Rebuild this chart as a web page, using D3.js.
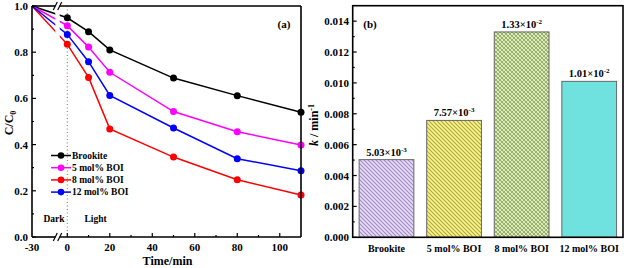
<!DOCTYPE html>
<html><head><meta charset="utf-8">
<script src="https://cdn.jsdelivr.net/npm/d3@7"></script>
<style>
body{margin:0;background:#fff;}
text{font-family:"Liberation Serif","Times New Roman",serif;font-weight:bold;}
</style></head>
<body><svg id="c" width="624" height="268"></svg>
<script>
// ---------- data ----------
const times = [-30, 0, 10, 20, 50, 80, 110];
const seriesNames = ["Brookite", "5 mol% BOI", "8 mol% BOI", "12 mol% BOI"];
const brookite = [1.0, 0.949, 0.889, 0.810, 0.688, 0.612, 0.540];
const boi5 = [1.0, 0.915, 0.822, 0.713, 0.543, 0.456, 0.398];
const boi8 = [1.0, 0.834, 0.691, 0.468, 0.346, 0.248, 0.182];
const boi12 = [1.0, 0.877, 0.759, 0.613, 0.472, 0.339, 0.287];
const xTicks = [-30, 0, 20, 40, 60, 80, 100];
const xMinor = [10, 30, 50, 70, 90];
const yTicksA = [0, 0.2, 0.4, 0.6, 0.8, 1.0];
const categories = ["Brookite", "5 mol% BOI", "8 mol% BOI", "12 mol% BOI"];
const kValues = [0.00503, 0.00757, 0.0133, 0.0101];
const kLabels = [["5.03×10", "-3"], ["7.57×10", "-3"], ["1.33×10", "-2"], ["1.01×10", "-2"]];
const yTicksB = [0, 0.002, 0.004, 0.006, 0.008, 0.010, 0.012, 0.014];

const svg = d3.select("#c");
const colors = ["#000000", "#ff00ff", "#ff0000", "#0000ff"];
const seriesVals = [brookite, boi5, boi8, boi12];

// ---------- panel a ----------
const A = {l: 32, r: 301, t: 6, b: 237};
const x = d3.scaleLinear().domain([-30, 0, 110]).range([A.l, 67.3, A.r]);
const y = d3.scaleLinear().domain([0, 1]).range([A.b, A.t]);
const ga = svg.append("g");

// dotted line at 0
ga.append("line").attr("x1", x(0)).attr("x2", x(0)).attr("y1", A.t).attr("y2", A.b)
  .attr("stroke", "#777").attr("stroke-width", 1).attr("stroke-dasharray", "1,2.5");

const line = d3.line().x((d, i) => x(times[i])).y(d => y(d));
const drawOrder = [0, 1, 2, 3];
drawOrder.forEach(s => {
  ga.append("path").datum(seriesVals[s]).attr("d", line)
    .attr("fill", "none").attr("stroke", colors[s]).attr("stroke-width", 1.5);
});
// break gap
const bx = 57.5;
ga.append("rect").attr("x", bx - 2.2).attr("y", A.t - 1).attr("width", 4.4).attr("height", A.b - A.t + 2).attr("fill", "#fff");
drawOrder.forEach(s => {
  ga.selectAll(null).data(seriesVals[s].slice(1)).enter().append("circle")
    .attr("cx", (d, i) => x(times[i + 1])).attr("cy", d => y(d)).attr("r", 3.5)
    .attr("fill", colors[s]);
});

// axes frame
const axisStroke = 1.6;
ga.append("line").attr("x1", A.l).attr("x2", A.l).attr("y1", A.t).attr("y2", A.b).attr("stroke", "#000").attr("stroke-width", axisStroke);
ga.append("line").attr("x1", A.r).attr("x2", A.r).attr("y1", A.t).attr("y2", A.b).attr("stroke", "#000").attr("stroke-width", axisStroke);
[A.t, A.b].forEach(yy => {
  ga.append("line").attr("x1", A.l).attr("x2", bx - 2.2).attr("y1", yy).attr("y2", yy).attr("stroke", "#000").attr("stroke-width", axisStroke);
  ga.append("line").attr("x1", bx + 2.2).attr("x2", A.r).attr("y1", yy).attr("y2", yy).attr("stroke", "#000").attr("stroke-width", axisStroke);
  [bx - 2.2, bx + 2.2].forEach(sx => {
    ga.append("line").attr("x1", sx - 2).attr("x2", sx + 2).attr("y1", yy + 4).attr("y2", yy - 4)
      .attr("stroke", "#000").attr("stroke-width", 1.2);
  });
});
// x ticks
xTicks.forEach(t => {
  if (t !== -30) ga.append("line").attr("x1", x(t)).attr("x2", x(t)).attr("y1", A.b).attr("y2", A.b - 4).attr("stroke", "#000").attr("stroke-width", 1.2);
  ga.append("text").attr("x", x(t)).attr("y", 250.5).attr("text-anchor", "middle").attr("font-size", 11).text(t);
});
xMinor.forEach(t => {
  ga.append("line").attr("x1", x(t)).attr("x2", x(t)).attr("y1", A.b).attr("y2", A.b - 2).attr("stroke", "#000").attr("stroke-width", 1.2);
});
// y ticks
yTicksA.forEach(t => {
  ga.append("line").attr("x1", A.l).attr("x2", A.l + 4).attr("y1", y(t)).attr("y2", y(t)).attr("stroke", "#000").attr("stroke-width", 1.2);
  ga.append("text").attr("x", 28).attr("y", y(t) + 4).attr("text-anchor", "end").attr("font-size", 11).text(t.toFixed(1));
});
d3.range(0.1, 1, 0.2).forEach(t => {
  ga.append("line").attr("x1", A.l).attr("x2", A.l + 2).attr("y1", y(t)).attr("y2", y(t)).attr("stroke", "#000").attr("stroke-width", 1.2);
});
// labels
ga.append("text").attr("x", (A.l + A.r) / 2 + 1).attr("y", 265).attr("text-anchor", "middle").attr("font-size", 12).text("Time/min");
const yl = ga.append("text").attr("transform", "translate(13,123) rotate(-90)").attr("text-anchor", "middle").attr("font-size", 12);
yl.append("tspan").text("C/C");
yl.append("tspan").attr("font-size", 8).attr("dy", 3).text("0");
ga.append("text").attr("x", 284).attr("y", 28).attr("text-anchor", "middle").attr("font-size", 11).text("(a)");
ga.append("text").attr("x", 54).attr("y", 221.5).attr("text-anchor", "middle").attr("font-size", 9.5).text("Dark");
ga.append("text").attr("x", 95.5).attr("y", 221.5).attr("text-anchor", "middle").attr("font-size", 9.5).text("Light");
// legend
seriesNames.forEach((n, i) => {
  const ly = 155.5 + i * 12.2;
  ga.append("line").attr("x1", 51).attr("x2", 71).attr("y1", ly).attr("y2", ly).attr("stroke", colors[i]).attr("stroke-width", 1.5);
  ga.append("circle").attr("cx", 61).attr("cy", ly).attr("r", 3.3).attr("fill", colors[i]);
  ga.append("text").attr("x", 72).attr("y", ly + 3.3).attr("font-size", 9.5).text(n);
});

// ---------- panel b ----------
const B = {l: 352.7, r: 623, t: 5.7, b: 237.3};
const defs = svg.append("defs");
function hatch(id, bg, fg, cross) {
  const p = defs.append("pattern").attr("id", id).attr("patternUnits", "userSpaceOnUse").attr("width", 4).attr("height", 4);
  p.append("rect").attr("width", 4).attr("height", 4).attr("fill", bg);
  p.append("path").attr("d", "M-1,-1L5,5M-1,3L1,5M3,-1L5,1").attr("stroke", fg).attr("stroke-width", 1.1);
  if (cross) p.append("path").attr("d", "M-1,5L5,-1M-1,1L1,-1M3,5L5,3").attr("stroke", fg).attr("stroke-width", 1.0);
}
hatch("p0", "#e6dcf6", "#a48ac8", false);
hatch("p1", "#f8f488", "#b0a844", false);
hatch("p2", "#e4f7b4", "#98ac78", true);
const fills = ["url(#p0)", "url(#p1)", "url(#p2)", "#6fe2df"];

const xb = d3.scaleBand().domain(categories).range([B.l, B.r]).paddingInner(0.19).paddingOuter(0.095);
const yb = d3.scaleLinear().domain([0, 0.015]).range([B.b, B.t]);
const gb = svg.append("g");
gb.selectAll(null).data(kValues).enter().append("rect")
  .attr("x", (d, i) => xb(categories[i])).attr("width", xb.bandwidth())
  .attr("y", d => yb(d)).attr("height", d => B.b - yb(d))
  .attr("fill", (d, i) => fills[i]).attr("stroke", "#666").attr("stroke-width", 1);
kValues.forEach((v, i) => {
  const t = gb.append("text").attr("x", xb(categories[i]) + xb.bandwidth() / 2).attr("y", yb(v) - 4)
    .attr("text-anchor", "middle").attr("font-size", 10.5);
  t.append("tspan").text(kLabels[i][0]);
  t.append("tspan").attr("font-size", 7).attr("dy", -4).text(kLabels[i][1]);
});
gb.append("rect").attr("x", B.l).attr("y", B.t).attr("width", B.r - B.l).attr("height", B.b - B.t)
  .attr("fill", "none").attr("stroke", "#000").attr("stroke-width", axisStroke);
yTicksB.forEach(t => {
  gb.append("line").attr("x1", B.l).attr("x2", B.l + 4).attr("y1", yb(t)).attr("y2", yb(t)).attr("stroke", "#000").attr("stroke-width", 1.2);
  gb.append("text").attr("x", 349).attr("y", yb(t) + 4).attr("text-anchor", "end").attr("font-size", 11).text(t.toFixed(3));
});
d3.range(0.001, 0.015, 0.002).forEach(t => {
  gb.append("line").attr("x1", B.l).attr("x2", B.l + 2).attr("y1", yb(t)).attr("y2", yb(t)).attr("stroke", "#000").attr("stroke-width", 1.2);
});
categories.forEach(c => {
  gb.append("text").attr("x", xb(c) + xb.bandwidth() / 2).attr("y", 252).attr("text-anchor", "middle").attr("font-size", 10).text(c);
});
const kl = gb.append("text").attr("transform", "translate(318,125) rotate(-90)").attr("text-anchor", "middle").attr("font-size", 12);
kl.append("tspan").attr("font-style", "italic").text("k");
kl.append("tspan").text(" / min");
kl.append("tspan").attr("font-size", 8).attr("dy", -4).text("-1");
gb.append("text").attr("x", 370).attr("y", 28).attr("text-anchor", "middle").attr("font-size", 11).text("(b)");
</script></body></html>
